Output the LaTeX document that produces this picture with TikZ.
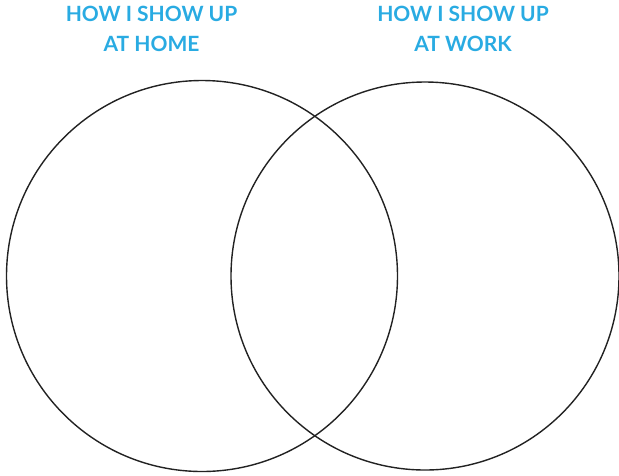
\documentclass[tikz,border=0pt]{standalone}
\usepackage{fontspec}
\setmainfont{Lato}
\definecolor{titleblue}{RGB}{41,171,226}
\definecolor{ringgray}{RGB}{34,34,34}
\begin{document}
\begin{tikzpicture}[x=1pt,y=-1pt,
  ring/.style={draw=ringgray,line width=1.4pt},
  title/.style={text=titleblue,font=\fontsize{21}{29.5}\selectfont\bfseries,align=center,inner sep=0pt,anchor=north}]
\useasboundingbox (0,0) rectangle (619,475);
\node[ring,circle,minimum size=391pt,inner sep=0pt] (home) at (202,276) {};
\node[ring,circle,minimum size=388pt,inner sep=0pt] (work) at (425,276) {};
\node[title] (thome) at (151.5,6) {HOW I SHOW UP\\AT HOME};
\node[title] (twork) at (463,6) {HOW I SHOW UP\\AT WORK};
\end{tikzpicture}
\end{document}
